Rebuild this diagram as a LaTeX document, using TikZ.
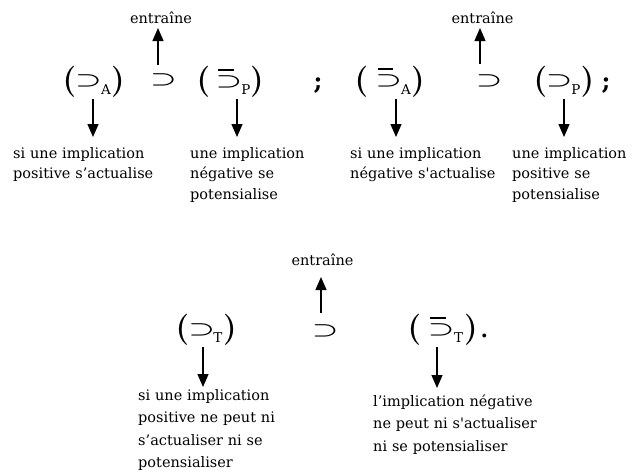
\documentclass[tikz,border=0pt]{standalone}
\usepackage{fontspec}
\usepackage{graphicx}
\usetikzlibrary{arrows.meta}
\newfontfamily\txtfont{DejaVu Serif}
\newcommand{\wsup}{\makebox[22pt]{\resizebox{26.5pt}{10.8pt}{\fontsize{20.74}{21}\selectfont\boldmath$\supset$}}}
\tikzset{
  lblone/.style={font=\txtfont\fontsize{14.5}{20.5}\selectfont, inner sep=0pt, text width=180pt, align=left, anchor=base west},
  lbltwo/.style={font=\txtfont\fontsize{14.5}{22.5}\selectfont, inner sep=0pt, text width=180pt, align=left, anchor=base west},
  ent/.style={font=\txtfont\fontsize{14.5}{17}\selectfont, inner sep=0pt, anchor=base},
  paren/.style={font=\bfseries\fontsize{31}{31}\selectfont, inner sep=0pt, anchor=base},
  symb/.style={inner sep=0pt, anchor=center},
  subs/.style={font=\txtfont\fontsize{13.5}{14}\selectfont, inner sep=0pt, anchor=base},
  punct/.style={font=\txtfont\bfseries\fontsize{24}{24}\selectfont, inner sep=0pt, anchor=base},
  ovbar/.style={line width=1.5pt},
  arr/.style={line width=1.3pt, -{Triangle[length=13pt,width=11pt]}},
}
\begin{document}
\begin{tikzpicture}[x=1pt,y=-1pt]
\useasboundingbox (0,0) rectangle (635,475);
\fill[white] (0,0) rectangle (635,475);

% ---------- row 1, left half ----------
\node[ent] (e1) at (161,23) {entraîne};
\node[paren] (p1l) at (69.5,89) {(};
\node[symb] (s1) at (88.5,81) {\wsup};
\node[subs] (a1) at (106,94) {A};
\node[paren] (p1r) at (118,89) {)};
\node[symb] (m1) at (163.5,80) {\wsup};
\node[paren] (p2l) at (203.5,89) {(};
\node[symb] (s2) at (229,82) {\wsup};
\draw[ovbar] (218,70) -- (234,70);
\node[subs] (a2) at (246,94) {P};
\node[paren] (p2r) at (257,89) {)};
\node[punct] (sc1) at (318,89) {;};

% ---------- row 1, right half ----------
\node[ent] (e2) at (482.5,23) {entraîne};
\node[paren] (p3l) at (361.5,89) {(};
\node[symb] (s3) at (388.5,81) {\wsup};
\draw[ovbar] (378,69) -- (393,69);
\node[subs] (a3) at (406,94) {A};
\node[paren] (p3r) at (418,89) {)};
\node[symb] (m2) at (489,81) {\wsup};
\node[paren] (p4l) at (540.5,89) {(};
\node[symb] (s4) at (559,81) {\wsup};
\node[subs] (a4) at (576,94) {P};
\node[paren] (p4r) at (587.5,89) {)};
\node[punct] (sc2) at (606,89) {;};

% labels row 1
\node[lblone] (t1) at (13,158) {si une implication\\positive s’actualise};
\node[lblone] (t2) at (190,158) {une implication\\négative se\\potensialise};
\node[lblone] (t3) at (350,158) {si une implication\\négative s\textquotesingle actualise};
\node[lblone] (t4) at (512,158) {une implication\\positive se\\potensialise};

% arrows row 1
\coordinate (u1s) at (158,65);  \coordinate (u1e) at (158,28);
\coordinate (u2s) at (480,64);  \coordinate (u2e) at (480,28);
\coordinate (d1s) at (93,99);   \coordinate (d1e) at (93,137);
\coordinate (d2s) at (237,99);  \coordinate (d2e) at (237,137);
\coordinate (d3s) at (396,99);  \coordinate (d3e) at (396,137);
\coordinate (d4s) at (564,99);  \coordinate (d4e) at (564,137);
\draw[arr] (u1s) -- (u1e);
\draw[arr] (u2s) -- (u2e);
\draw[arr] (d1s) -- (d1e);
\draw[arr] (d2s) -- (d2e);
\draw[arr] (d3s) -- (d3e);
\draw[arr] (d4s) -- (d4e);

% ---------- row 2 ----------
\node[ent] (e3) at (322.5,265) {entraîne};
\node[paren] (p5l) at (182.5,337) {(};
\node[symb] (s5) at (201.5,330) {\wsup};
\node[subs] (a5) at (218,342) {T};
\node[paren] (p5r) at (230,337) {)};
\node[symb] (m3) at (325,331) {\wsup};
\node[paren] (p6l) at (414.5,337) {(};
\node[symb] (s6) at (441,330) {\wsup};
\draw[ovbar] (430,318) -- (446,318);
\node[subs] (a6) at (458.5,342) {T};
\node[paren] (p6r) at (471,337) {)};
\node[font=\txtfont\fontsize{30}{30}\selectfont, inner sep=0pt, anchor=base] (pt) at (484.5,337) {.};

\node[lbltwo] (t5) at (138,400) {si une implication\\positive ne peut ni\\s’actualiser ni se\\potensialiser};
\node[lbltwo] (t6) at (373,406) {l’implication négative\\ne peut ni s\textquotesingle actualiser\\ni se potensialiser};

\coordinate (u3s) at (321,313); \coordinate (u3e) at (321,277);
\coordinate (d5s) at (203,347); \coordinate (d5e) at (203,387);
\coordinate (d6s) at (437,347); \coordinate (d6e) at (437,388);
\draw[arr] (u3s) -- (u3e);
\draw[arr] (d5s) -- (d5e);
\draw[arr] (d6s) -- (d6e);
\end{tikzpicture}
\end{document}
